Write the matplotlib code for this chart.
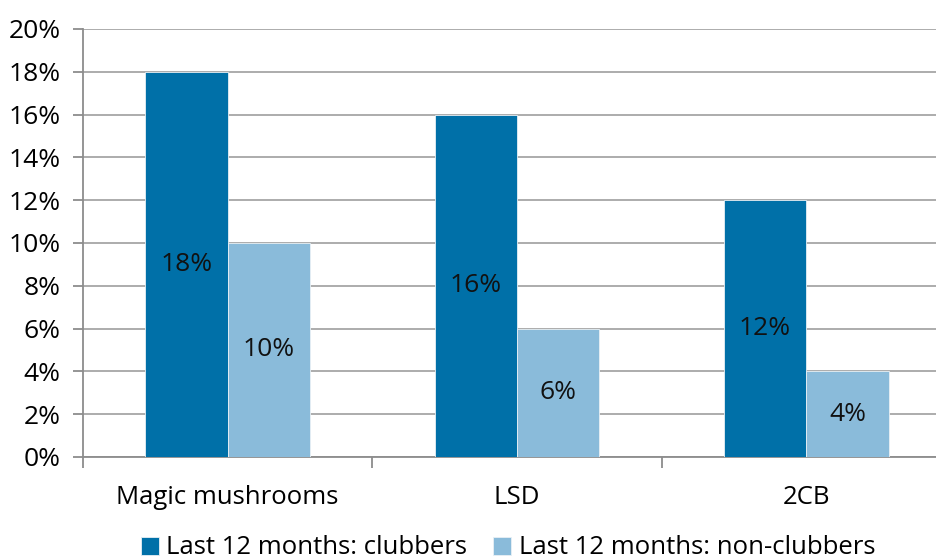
import matplotlib.pyplot as plt
import numpy as np

plt.rcParams['font.family'] = ['Open Sans', 'DejaVu Sans']
plt.rcParams['font.size'] = 18.5

categories = ['Magic mushrooms', 'LSD', '2CB']
clubbers = [18, 16, 12]
non_clubbers = [10, 6, 4]
series_names = ['Last 12 months: clubbers', 'Last 12 months: non-clubbers']
colors = ['#0070A8', '#8ABBDA']

fig = plt.figure(figsize=(9.36, 5.6), dpi=100)
# the plot area runs past the right edge of the image, as in the original
ax = fig.add_axes([83/936, 1 - 457/560, 868/936, 428/560])

x = np.arange(len(categories))
w = 0.285
b1 = ax.bar(x - w/2, clubbers, w, color=colors[0], edgecolor='#e8f0f5', linewidth=0.6,
            label=series_names[0], zorder=3)
b2 = ax.bar(x + w/2, non_clubbers, w, color=colors[1], edgecolor='#e8f0f5', linewidth=0.6,
            label=series_names[1], zorder=3)

for bars, vals in [(b1, clubbers), (b2, non_clubbers)]:
    for rect, v in zip(bars, vals):
        ax.text(rect.get_x() + rect.get_width()/2, v/2, f'{v}%',
                ha='center', va='center', fontsize=19, color='#111111', zorder=4)

ax.set_xlim(-0.5, len(categories) - 0.5)
ax.set_ylim(0, 20)
ax.set_yticks(range(0, 21, 2))
ax.set_yticklabels([f'{t}%' for t in range(0, 21, 2)], fontsize=19)
ax.grid(axis='y', color='#a6a6a6', linewidth=1.3, zorder=0)

ax.set_xticks(x)
ax.set_xticklabels(categories)
ax.tick_params(axis='x', length=0, pad=20)
ax.set_xticks(np.arange(-0.5, len(categories)), minor=True)
ax.tick_params(axis='x', which='minor', length=8, width=1.3, color='#8c8c8c', direction='out')
ax.tick_params(axis='y', length=7, width=1.3, color='#8c8c8c', pad=9)

for s in ['top', 'right']:
    ax.spines[s].set_visible(False)
for s in ['left', 'bottom']:
    ax.spines[s].set_color('#8c8c8c')
    ax.spines[s].set_linewidth(1.3)

fig.legend(handles=[b1, b2], loc='center', bbox_to_anchor=(508/936, 1 - 548/560), ncol=2,
           frameon=False, handlelength=0.7, handleheight=0.7, handletextpad=0.3,
           columnspacing=1.0, fontsize=18.5)

fig.savefig('out.png', dpi=100)
